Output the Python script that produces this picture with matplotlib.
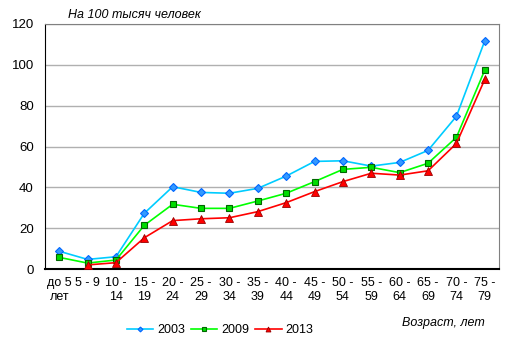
import numpy as np
import matplotlib
matplotlib.use("Agg")
import matplotlib.pyplot as plt

plt.rcParams['font.family'] = ['Liberation Sans', 'DejaVu Sans']

ages = ["до 5\nлет", "5 - 9", "10 -\n14", "15 -\n19", "20 -\n24", "25 -\n29",
        "30 -\n34", "35 -\n39", "40 -\n44", "45 -\n49", "50 -\n54", "55 -\n59",
        "60 -\n64", "65 -\n69", "70 -\n74", "75 -\n79"]
y2003 = [8.7, 4.7, 6.0, 27.3, 40.3, 37.5, 37.1, 39.5, 45.5, 52.7, 53.0, 50.4, 52.2, 58.1, 74.8, 111.8]
y2009 = [5.7, 2.9, 4.4, 21.4, 31.7, 29.7, 29.7, 33.3, 37.1, 42.8, 48.8, 49.8, 47.2, 51.8, 64.5, 97.5]
y2013 = [np.nan, 2.0, 3.1, 15.3, 23.7, 24.6, 25.1, 28.1, 32.5, 37.9, 42.8, 46.9, 46.0, 48.1, 61.5, 92.9]

fig = plt.figure(figsize=(5.14, 3.51), dpi=100)
ax = fig.add_axes([45/514, 1-269/351, 454/514, 245/351])
x = np.arange(len(ages))

ax.plot(x, y2003, color='#00CCFF', lw=1.2, marker='D', ms=3.8, mfc='#3399FF', mec='#0066FF', mew=0.8, label='2003', zorder=3)
ax.plot(x, y2009, color='#00FF00', lw=1.2, marker='s', ms=5, mfc='#00DD00', mec='#006600', mew=0.8, label='2009', zorder=4)
ax.plot(x, y2013, color='#FF0000', lw=1.2, marker='^', ms=5.5, mfc='#FF0000', mec='#990000', mew=0.6, label='2013', zorder=5)

ax.set_xlim(-0.5, len(ages) - 0.5)
ax.set_ylim(0, 120)
ax.set_yticks(range(0, 121, 20))
ax.set_xticks(x)
ax.set_xticklabels(ages, fontsize=9, linespacing=1.2)
ax.tick_params(axis='both', length=0)
ax.tick_params(axis='x', pad=6, labelsize=9)
ax.tick_params(axis='y', pad=8, labelsize=9.5)
ax.yaxis.grid(True, color='#B0B0B0', lw=1)
ax.set_axisbelow(True)
for s in ['top', 'right']:
    ax.spines[s].set_color('#808080')
ax.spines['left'].set_color('black')
ax.spines['bottom'].set_color('black')
ax.spines['bottom'].set_linewidth(1.5)

fig.text(68/514, 1-15/351, "На 100 тысяч человек", style='italic', fontsize=9, va='center')
fig.text(485/514, 1-323/351, "Возраст, лет", style='italic', fontsize=9, va='center', ha='right')

leg = fig.legend(loc='center', bbox_to_anchor=(220/514, 1-330/351), ncol=3, frameon=False,
                 fontsize=9, markerscale=0.65, handlelength=2.1, columnspacing=0.5, handletextpad=0.3)

fig.savefig("out.png", dpi=100)
